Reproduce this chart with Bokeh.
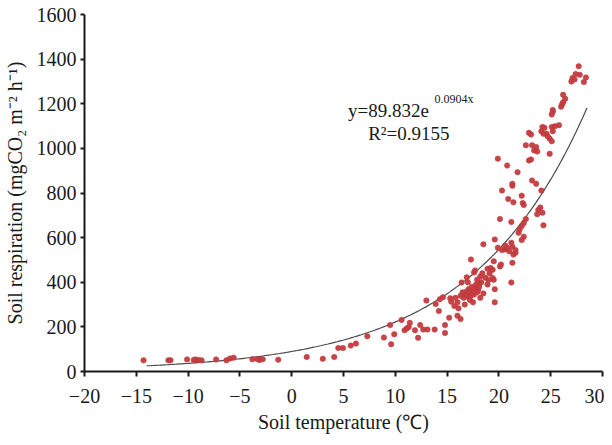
from bokeh.plotting import figure
from bokeh.models import Range1d, FixedTicker, Label
from bokeh.embed import file_html
from bokeh.resources import INLINE
import numpy as np

# ---- data ----
temp_low = [-14.3, -11.9, -11.7, -10.1, -9.45, -9.3, -9.0, -8.7, -7.3, -6.3, -5.95, -5.6,
            -3.8, -3.3, -3.1, -2.8, -1.3, 1.45, 3.0, 4.1, 4.5, 4.95, 5.7, 6.2, 7.3, 8.9]
resp_low = [50, 50, 50, 54, 52, 54, 52, 50, 54, 50, 58, 62,
            55, 55, 52, 55, 53, 65, 57, 65, 105, 105, 116, 125, 158, 152]

temp_mid = [9.5, 9.6, 9.9, 10.6, 10.9, 11.1, 11.3, 11.4, 11.9, 12.2, 12.4, 12.7, 13.1, 13.8,
            13.0, 13.9, 14.2, 14.3, 14.6, 14.8, 14.8, 15.2, 15.3, 15.4, 15.7, 16.0, 16.3, 16.1,
            16.4, 16.9, 17.3, 17.6, 17.7, 17.9, 18.1, 18.2, 18.9, 19.1, 19.2, 19.5, 19.6, 19.6,
            19.4, 19.4, 19.5, 20.1, 20.2, 21.3, 21.2, 21.4, 21.6, 21.0, 20.6]
resp_mid = [208, 122, 167, 231, 185, 193, 200, 218, 185, 151, 208, 188, 188, 188,
            318, 303, 271, 324, 333, 208, 173, 241, 328, 313, 294, 250, 235, 283,
            399, 422, 502, 444, 453, 411, 396, 426, 460, 439, 464, 411, 369, 310,
            456, 419, 494, 471, 479, 487, 399, 524, 532, 539, 547]

temp_cluster = [16.3, 16.5, 16.6, 16.8, 16.9, 17.0, 17.1, 17.2, 17.3, 17.4, 17.5, 17.6, 17.7,
                17.8, 17.9, 18.0, 18.1, 18.3, 18.5, 18.7, 18.9, 17.2, 16.7, 17.5, 18.2, 16.0,
                15.8, 17.0, 18.4, 19.0]
resp_cluster = [340, 355, 330, 345, 360, 335, 370, 350, 340, 380, 360, 345, 372,
                390, 355, 365, 380, 400, 350, 420, 390, 320, 300, 310, 330, 310,
                330, 400, 440, 410]

temp_high = [27.7, 27.4, 27.8, 28.4, 27.1, 27.0, 28.2, 27.3,
             26.2, 26.4, 26.1, 26.2, 26.0,
             25.2, 25.1, 25.2, 25.4, 25.8, 25.1, 25.2, 24.7, 24.9, 25.1, 24.2, 24.1, 24.4, 24.3,
             24.6, 22.9, 23.1, 24.9,
             22.6, 23.2, 23.6, 23.4, 23.7,
             22.9, 23.1, 19.9, 20.8, 21.8, 23.2, 23.6, 21.3, 21.3, 20.3, 24.1,
             22.2, 20.9, 21.4, 22.3, 22.4,
             24.0, 23.8, 24.2, 23.7,
             20.1, 21.2, 22.6, 22.4, 22.2, 22.0, 21.9, 22.4, 22.2, 24.3,
             19.6, 18.5, 19.9, 20.6, 20.3, 20.8, 21.2, 21.3, 21.6]
resp_high = [1368, 1333, 1330, 1318, 1315, 1300, 1297, 1309,
             1240, 1222, 1198, 1207, 1187,
             1172, 1152, 1164, 1099, 1104, 1096, 1077, 1054, 1044, 1032, 1096, 1077, 1092, 1066,
             1066, 1070, 1062, 976,
             1014, 1014, 1006, 991, 986,
             946, 950, 954, 923, 893, 856, 841, 841, 833, 811, 811,
             788, 773, 758, 755, 746,
             735, 724, 712, 705,
             683, 670, 683, 665, 652, 637, 622, 604, 589, 655,
             592, 570, 555, 565, 544, 555, 577, 559, 544]

temperature = temp_low + temp_mid + temp_cluster + temp_high
respiration = resp_low + resp_mid + resp_cluster + resp_high

# fitted curve stated on the chart: y = 89.832 e^(0.0904x)
fit_a = 89.832
fit_b = 0.0904
fit_x_start, fit_x_end = -14.0, 28.5

x_ticks = [-20, -15, -10, -5, 0, 5, 10, 15, 20, 25, 30]
y_ticks = [0, 200, 400, 600, 800, 1000, 1200, 1400, 1600]
x_title = "Soil temperature (\u2103)"
y_title = "Soil respiration (mgCO\u2082 m\u207b\u00b2 h\u207b\u00b9)"

FONT = "Liberation Serif"

p = figure(width=604, height=437, output_backend="svg", toolbar_location=None,
           x_range=Range1d(-20, 30), y_range=Range1d(0, 1600),
           min_border_left=80, min_border_right=2, min_border_top=14, min_border_bottom=66)
p.outline_line_color = None
p.xgrid.visible = False
p.ygrid.visible = False

fx = np.linspace(fit_x_start, fit_x_end, 200)
fy = fit_a * np.exp(fit_b * fx)
p.line(fx, fy, line_color="#4a4a4a", line_width=1.2)

p.scatter(temperature, respiration, size=5.5, fill_color="#c23b3e", line_color="#c23b3e",
          line_width=0.5, fill_alpha=0.95)

for ax in (p.xaxis[0], p.yaxis[0]):
    ax.axis_line_width = 2
    ax.axis_line_color = "#1a1a1a"
    ax.major_tick_line_width = 2
    ax.major_tick_line_color = "#1a1a1a"
    ax.major_tick_in = 0
    ax.major_tick_out = 5
    ax.minor_tick_line_color = None
    ax.major_label_text_font = FONT
    ax.major_label_text_font_size = "20px"
    ax.major_label_text_color = "#1a1a1a"
    ax.axis_label_text_font = FONT
    ax.axis_label_text_font_size = "20px"
    ax.axis_label_text_font_style = "normal"
    ax.axis_label_text_color = "#1a1a1a"

p.xaxis.ticker = FixedTicker(ticks=x_ticks)
p.yaxis.ticker = FixedTicker(ticks=y_ticks)
p.xaxis.major_label_overrides = {t: (("\u2212" + str(abs(t))) if t < 0 else str(t)) for t in x_ticks}
p.xaxis.major_label_standoff = 12
p.yaxis.major_label_standoff = 4
p.yaxis.major_tick_out = 4
p.xaxis.axis_label = x_title
p.xaxis.axis_label_standoff = 5
p.yaxis.axis_label = y_title
p.yaxis.axis_label_standoff = 8

eq_main = Label(x=5.44, y=1171, text="y=89.832e", text_font=FONT, text_font_size="19px",
                text_baseline="middle", text_color="#1a1a1a")
eq_sup = Label(x=13.79, y=1220, text="0.0904x", text_font=FONT, text_font_size="12px",
               text_baseline="middle", text_color="#1a1a1a")
eq_r2 = Label(x=7.38, y=1067, text="R\u00b2=0.9155", text_font=FONT, text_font_size="19px",
              text_baseline="middle", text_color="#1a1a1a")
for lab in (eq_main, eq_sup, eq_r2):
    p.add_layout(lab)

open("out.html", "w").write(file_html(p, INLINE))
